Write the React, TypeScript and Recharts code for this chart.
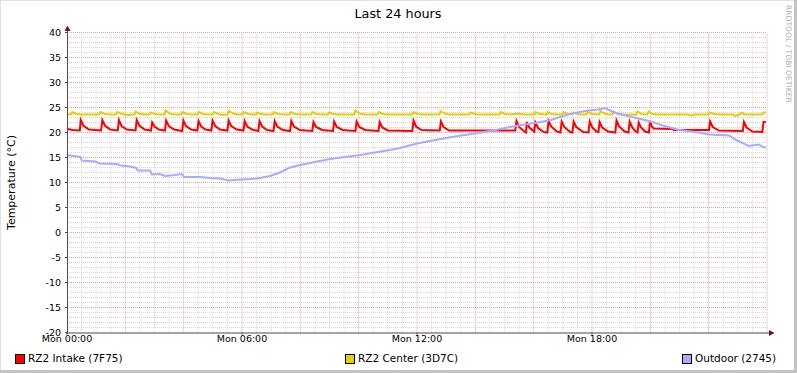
import React from 'react';
import { LineChart, Line, XAxis, YAxis, ReferenceLine } from 'recharts';

const hourTicks = [0, 6, 12, 18];
const tempTicks = [-20, -15, -10, -5, 0, 5, 10, 15, 20, 25, 30, 35, 40];

// [hour, °C]
const intake: [number, number][] = [
  [0.0, 20.7], [0.2, 20.5], [0.44, 20.4],
  [0.47, 22.5], [0.56, 21.4], [0.75, 20.6], [1.17, 20.4],
  [1.21, 22.5], [1.3, 21.4], [1.48, 20.6], [1.74, 20.4],
  [1.78, 22.5], [1.87, 21.3], [2.05, 20.6], [2.35, 20.4],
  [2.39, 22.5], [2.48, 21.4], [2.66, 20.6], [2.88, 20.4],
  [2.92, 22.0], [3.0, 21.2], [3.15, 20.6], [3.36, 20.4],
  [3.4, 22.4], [3.49, 21.3], [3.67, 20.6], [3.95, 20.3],
  [3.99, 22.4], [4.08, 21.3], [4.26, 20.6], [4.47, 20.4],
  [4.51, 22.3], [4.6, 21.2], [4.75, 20.6], [4.95, 20.4],
  [4.99, 22.4], [5.08, 21.3], [5.25, 20.6], [5.5, 20.4],
  [5.54, 22.4], [5.63, 21.3], [5.82, 20.6], [6.05, 20.4],
  [6.09, 22.3], [6.18, 21.2], [6.35, 20.6], [6.56, 20.3],
  [6.6, 22.3], [6.69, 21.2], [6.86, 20.5], [7.08, 20.3],
  [7.12, 22.3], [7.21, 21.2], [7.4, 20.5], [7.65, 20.3],
  [7.69, 22.3], [7.78, 21.2], [7.98, 20.5], [8.41, 20.3],
  [8.45, 22.1], [8.54, 21.1], [8.75, 20.5], [9.12, 20.3],
  [9.16, 22.2], [9.25, 21.1], [9.45, 20.5], [9.89, 20.3],
  [9.93, 22.2], [10.02, 21.1], [10.22, 20.5], [10.68, 20.3],
  [10.72, 22.1], [10.81, 21.0], [11.0, 20.4], [11.84, 20.3],
  [11.88, 22.4], [11.97, 21.2], [12.15, 20.5], [12.78, 20.4],
  [12.82, 22.2], [12.91, 21.1], [13.1, 20.4], [15.37, 20.4],
  [15.41, 22.3], [15.5, 21.1], [15.7, 20.1], [15.74, 20.0],
  [15.76, 22.1], [15.85, 21.0], [16.02, 20.2],
  [16.06, 22.0], [16.15, 20.9], [16.35, 20.1], [16.47, 20.0],
  [16.51, 22.3], [16.6, 21.2], [16.8, 20.2], [16.92, 20.0],
  [16.96, 22.2], [17.05, 21.1], [17.25, 20.1], [17.33, 20.0],
  [17.37, 22.2], [17.46, 21.1], [17.7, 20.1], [17.88, 20.0],
  [17.92, 22.2], [18.01, 21.0], [18.15, 20.2], [18.22, 20.1],
  [18.26, 22.1], [18.35, 21.0], [18.55, 20.2], [18.8, 20.0],
  [18.84, 22.4], [18.93, 21.2], [19.12, 20.2], [19.25, 20.0],
  [19.29, 22.2], [19.38, 21.0], [19.5, 20.2], [19.56, 20.0],
  [19.6, 22.0], [19.68, 21.0], [19.82, 20.2], [19.95, 20.0],
  [19.99, 22.3], [20.05, 21.2], [20.12, 20.8], [20.78, 20.7], [20.8, 20.5], [22.01, 20.5],
  [22.05, 22.2], [22.14, 21.1], [22.35, 20.4], [23.17, 20.3],
  [23.21, 22.1], [23.3, 21.0], [23.5, 20.2], [23.84, 20.1],
  [23.88, 22.1], [23.96, 22.1],
];

const center: [number, number][] = [
  [0.0, 23.7], [0.14, 23.6], [0.18, 24.1], [0.32, 23.7], [0.5, 23.6],
  [1.11, 23.6], [1.15, 24.1], [1.3, 23.7], [1.45, 23.6],
  [1.68, 23.6], [1.72, 24.1], [1.88, 23.7], [2.05, 23.5],
  [2.31, 23.6], [2.35, 24.2], [2.5, 23.7], [2.65, 23.6],
  [2.83, 23.6], [2.87, 24.0], [3.0, 23.7], [3.15, 23.6],
  [3.34, 23.6], [3.38, 24.4], [3.52, 23.8], [3.7, 23.6],
  [3.91, 23.6], [3.95, 24.1], [4.1, 23.7], [4.25, 23.6],
  [4.48, 23.6], [4.52, 24.1], [4.66, 23.7], [4.8, 23.6],
  [5.0, 23.6], [5.04, 24.1], [5.18, 23.7], [5.32, 23.5],
  [5.51, 23.6], [5.55, 24.3], [5.7, 23.8], [5.85, 23.6],
  [6.02, 23.6], [6.06, 24.1], [6.2, 23.7], [6.35, 23.6],
  [6.48, 23.6], [6.52, 24.0], [6.65, 23.7], [6.8, 23.6],
  [7.05, 23.6], [7.09, 24.1], [7.23, 23.7], [7.4, 23.6],
  [7.63, 23.6], [7.67, 24.1], [7.8, 23.7], [7.95, 23.6],
  [8.37, 23.6], [8.41, 24.1], [8.55, 23.7], [8.7, 23.6],
  [8.94, 23.6], [8.98, 24.0], [9.12, 23.7], [9.3, 23.6],
  [9.85, 23.6], [9.89, 24.4], [10.03, 23.8], [10.2, 23.6],
  [10.65, 23.6], [10.69, 24.1], [10.83, 23.7], [11.0, 23.6],
  [11.84, 23.6], [11.88, 24.1], [12.02, 23.7], [12.2, 23.6],
  [12.77, 23.6], [12.81, 24.3], [12.95, 23.8], [13.1, 23.6],
  [13.8, 23.6], [13.84, 24.0], [13.98, 23.7], [14.1, 23.6],
  [14.83, 23.6], [14.87, 24.1], [15.0, 23.7], [15.2, 23.6], [15.5, 23.8], [15.7, 23.6],
  [16.03, 23.6], [16.07, 24.1], [16.2, 23.7], [16.44, 23.6], [16.48, 24.1], [16.6, 23.7], [16.8, 23.6],
  [16.98, 23.6], [17.02, 24.1], [17.15, 23.7], [17.33, 23.6], [17.37, 24.0], [17.5, 23.7], [17.65, 23.6],
  [17.81, 23.6], [17.85, 24.1], [18.0, 23.7], [18.25, 23.6], [18.29, 24.3], [18.42, 23.8], [18.55, 23.6],
  [18.7, 23.6], [18.74, 24.2], [18.88, 23.7], [19.05, 23.6],
  [19.52, 23.6], [19.56, 24.2], [19.7, 23.7], [19.9, 23.6], [19.94, 24.2], [20.08, 23.7], [20.25, 23.6],
  [21.3, 23.6], [21.35, 23.4], [21.55, 23.6],
  [22.0, 23.6], [22.04, 24.0], [22.18, 23.7], [22.35, 23.6],
  [22.85, 23.6], [22.9, 23.3], [23.05, 23.6], [23.12, 23.9], [23.25, 23.6],
  [23.84, 23.6], [23.88, 24.0], [23.96, 24.0],
];

const outdoor: [number, number][] = [
  [0.0, 15.5], [0.24, 15.3], [0.45, 15.1], [0.51, 14.4], [0.96, 14.2], [1.13, 13.8],
  [1.71, 13.7], [1.85, 13.4], [2.16, 13.2], [2.37, 12.9], [2.43, 12.4], [2.85, 12.4],
  [2.91, 11.6], [3.19, 11.7], [3.36, 11.3], [3.7, 11.5], [3.94, 11.7], [4.01, 11.1],
  [4.56, 11.1], [4.9, 10.9], [5.25, 10.8], [5.52, 10.4], [5.76, 10.5], [6.0, 10.6],
  [6.34, 10.7], [6.62, 10.9], [6.96, 11.3], [7.3, 12.0], [7.65, 13.0], [7.99, 13.5],
  [8.33, 13.9], [8.67, 14.3], [9.02, 14.7], [9.53, 15.1], [10.05, 15.5], [10.56, 16.0],
  [11.07, 16.5], [11.42, 16.9], [12.0, 17.8], [12.72, 18.6], [13.41, 19.3], [14.09, 19.9],
  [14.78, 20.6], [15.36, 21.3], [16.05, 21.9], [16.59, 22.5], [17.17, 23.6], [17.76, 24.3],
  [18.21, 24.6], [18.45, 24.9], [18.69, 24.2], [18.82, 23.9], [19.51, 22.9], [19.95, 22.3],
  [20.43, 21.4], [20.98, 20.5], [21.56, 20.1], [22.01, 19.6], [22.7, 19.4], [22.94, 18.5],
  [23.38, 17.3], [23.59, 17.5], [23.73, 17.6], [23.86, 17.1], [23.96, 17.0],
];

const series = [
  { key: 'intake', name: 'RZ2 Intake (7F75)', color: '#ff0000', points: intake, legendX: 15 },
  { key: 'center', name: 'RZ2 Center (3D7C)', color: '#eacc00', points: center, legendX: 345 },
  { key: 'outdoor', name: 'Outdoor (2745)', color: '#aaaaff', points: outdoor, legendX: 682 },
];

// grid: minor every 30 min / 1 °C, major every 2 h / 5 °C
const majorX = Array.from({ length: 12 }, (_, i) => (i + 1) * 2);
const majorY = tempTicks.slice(1);
const minorX = Array.from({ length: 48 }, (_, i) => (i + 1) * 0.5).filter((h) => h % 2 !== 0);
const minorY = Array.from({ length: 60 }, (_, i) => i - 19).filter((v) => v % 5 !== 0);

const font = '"DejaVu Sans", sans-serif';
const axisColor = '#5a4545';
const arrowColor = '#7f1010';
const majorColor = '#e8a0a0';
const minorColor = '#d6d6d6';

const fmtHour = (h: number) => `Mon ${String(h).padStart(2, '0')}:00`;

export default function App() {
  return (
    <div style={{ position: 'fixed', left: 0, top: 0, width: 797, height: 373, background: '#fff', fontFamily: font }}>
      <LineChart width={797} height={373} margin={{ top: 32.5, right: 30, bottom: 0.5, left: 7 }}>
        {minorX.map((h) => (
          <ReferenceLine key={'nx' + h} x={h} stroke={minorColor} strokeDasharray="1 1" />
        ))}
        {minorY.map((v) => (
          <ReferenceLine key={'ny' + v} y={v} stroke={minorColor} strokeDasharray="1 1" />
        ))}
        {majorX.map((h) => (
          <ReferenceLine key={'mx' + h} x={h} stroke={majorColor} strokeDasharray="1 1" />
        ))}
        {majorY.map((v) => (
          <ReferenceLine key={'my' + v} y={v} stroke={majorColor} strokeDasharray="1 1" />
        ))}
        <XAxis
          dataKey="t"
          type="number"
          domain={[0, 24]}
          ticks={hourTicks}
          tickFormatter={fmtHour}
          height={40}
          axisLine={false}
          tickLine={{ stroke: axisColor }}
          tickSize={2}
          tickMargin={1}
          tick={{ fill: '#000', fontSize: 9.5, fontFamily: font }}
          allowDataOverflow
        />
        <YAxis
          type="number"
          domain={[-20, 40]}
          ticks={tempTicks}
          width={60}
          axisLine={false}
          tickLine={{ stroke: axisColor }}
          tickSize={2}
          tickMargin={4}
          tick={{ fill: '#000', fontSize: 9.5, fontFamily: font }}
          allowDataOverflow
        />
        {series.map((s) => (
          <Line
            key={s.key}
            data={s.points.map(([t, v]) => ({ t, v }))}
            dataKey="v"
            name={s.name}
            stroke={s.color}
            strokeWidth={2}
            dot={false}
            type="linear"
            isAnimationActive={false}
          />
        ))}
      </LineChart>

      <svg width={797} height={373} style={{ position: 'absolute', left: 0, top: 0, pointerEvents: 'none' }}>
        {/* frame */}
        <rect x={0.5} y={0.5} width={796} height={372} fill="none" stroke="#e2e2e2" />
        <rect x={794} y={0} width={3} height={373} fill="#c4c4c4" />
        <rect x={0} y={370} width={797} height={3} fill="#c4c4c4" />

        {/* axes */}
        <line x1={67.5} y1={334} x2={67.5} y2={29} stroke={axisColor} />
        <polygon points="64.5,31 70.5,31 67.5,25.5" fill={arrowColor} />
        <line x1={66} y1={333} x2={771} y2={333} stroke={axisColor} />
        <polygon points="769,330 769,336 774.5,333" fill={arrowColor} />

        <text x={398} y={18} textAnchor="middle" fontSize={12.8} fontFamily={font} fill="#000">
          Last 24 hours
        </text>
        <text
          transform="translate(15,182.5) rotate(-90)"
          textAnchor="middle"
          fontSize={11}
          fontFamily={font}
          fill="#000"
        >
          Temperature (°C)
        </text>
        <text
          transform="translate(786,5) rotate(90)"
          fontSize={7.6}
          fontFamily={font}
          fill="#b0b0b0"
        >
          RRDTOOL / TOBI OETIKER
        </text>

        {series.map((s) => (
          <g key={s.key}>
            <rect x={s.legendX + 0.5} y={354.5} width={9} height={9} fill={s.color} stroke="#000" />
            <text x={s.legendX + 13} y={362.3} fontSize={10.5} fontFamily={font} fill="#000">
              {s.name}
            </text>
          </g>
        ))}
      </svg>
    </div>
  );
}
